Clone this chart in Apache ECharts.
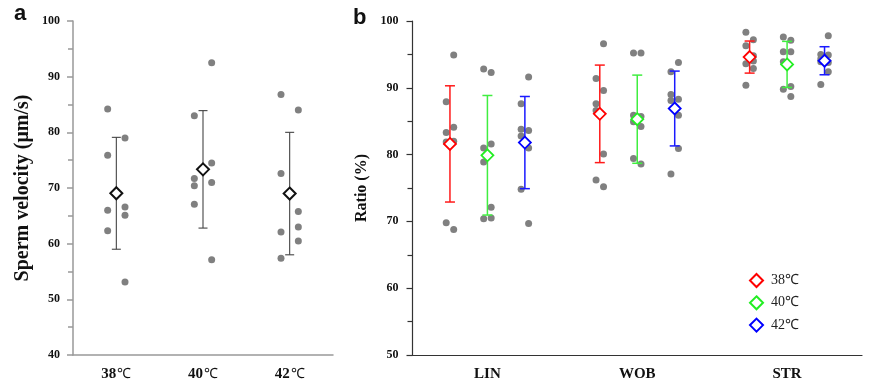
<!DOCTYPE html>
<html>
<head>
<meta charset="utf-8">
<script src="https://cdn.jsdelivr.net/npm/echarts@6/dist/echarts.min.js"></script>
<style>
html,body{margin:0;padding:0;background:#fff;}
#c{width:893px;height:388px;}
</style>
</head>
<body>
<div id="c"></div>
<script>
// ---------- Data ----------
const tempLabels = ['38℃', '40℃', '42℃'];
const paramLabels = ['LIN', 'WOB', 'STR'];
const velocityTicks = [40, 100, 10];
const ratioTicks = [50, 100, 10];

// Panel a: sperm velocity, first four = left column, last four = right column
const velocity38 = [84.2, 75.9, 66.0, 62.3, 79.0, 66.6, 65.1, 53.1];
const velocity40 = [83.0, 71.7, 70.4, 67.1, 92.5, 74.5, 71.0, 57.1];
const velocity42 = [86.8, 72.6, 62.1, 57.4, 84.0, 65.8, 63.0, 60.5];
const velocityMean = [69.05, 73.35, 69.0];
const velocitySD = [10.05, 10.55, 11.0];

// Panel b: ratios (%), first four = left column, last four = right column
const lin38 = [87.9, 83.3, 81.9, 69.8, 94.9, 84.1, 82.0, 68.8];
const lin40 = [92.8, 81.0, 78.9, 70.4, 92.3, 81.6, 72.1, 70.5];
const lin42 = [87.6, 83.8, 82.8, 74.8, 91.6, 83.6, 81.0, 69.7];
const wob38 = [91.4, 87.6, 86.6, 76.2, 96.6, 89.6, 80.1, 75.2];
const wob40 = [95.2, 85.9, 84.9, 79.4, 95.2, 85.7, 84.2, 78.6];
const wob42 = [92.4, 89.0, 88.1, 77.1, 93.8, 88.3, 85.9, 80.9];
const str38 = [98.3, 96.3, 93.6, 90.4, 97.2, 94.8, 94.0, 92.9];
const str40 = [97.6, 95.4, 93.9, 89.8, 97.1, 95.4, 90.2, 88.7];
const str42 = [95.0, 94.3, 93.9, 90.5, 97.8, 94.9, 93.8, 92.4];

const ratioMean38 = [81.6, 86.1, 94.6];
const ratioSD38 = [8.7, 7.3, 2.4];
const ratioMean40 = [79.9, 85.3, 93.5];
const ratioSD40 = [8.95, 6.6, 3.45];
const ratioMean42 = [81.8, 86.9, 94.05];
const ratioSD42 = [6.9, 5.6, 2.1];

// ---------- Build ----------
const serif = 'Liberation Serif';
const dotColor = '#808080';
const tempColors = ['#ff0000', '#22ee22', '#0000ff'];
const barColors = ['#ff1a1a', '#40ee40', '#1a1aff'];

function richTemp(s) {
  // split number part and the degree sign so the ℃ glyph is drawn thin
  const i = s.indexOf('℃');
  return i < 0 ? s : '{n|' + s.slice(0, i) + '}{d|℃}';
}

function dotPoints(vals, center, jitter) {
  return vals.map((v, i) => [center + (i < 4 ? -jitter : jitter), v]);
}

const velocityGroups = [velocity38, velocity40, velocity42];
const ratioGroups = [
  [lin38, wob38, str38],
  [lin40, wob40, str40],
  [lin42, wob42, str42]
];
const ratioMeans = [ratioMean38, ratioMean40, ratioMean42];
const ratioSDs = [ratioSD38, ratioSD40, ratioSD42];
const groupShift = [-0.25, 0, 0.25];

function errRender(color, cap, width) {
  return function (params, api) {
    const x = api.value(0), m = api.value(1), sd = api.value(2);
    const t = api.coord([x, m + sd]);
    const b = api.coord([x, m - sd]);
    const st = { stroke: color, lineWidth: width };
    return {
      type: 'group',
      children: [
        { type: 'line', shape: { x1: t[0], y1: t[1], x2: b[0], y2: b[1] }, style: st },
        { type: 'line', shape: { x1: t[0] - cap, y1: t[1], x2: t[0] + cap, y2: t[1] }, style: st },
        { type: 'line', shape: { x1: b[0] - cap, y1: b[1], x2: b[0] + cap, y2: b[1] }, style: st }
      ]
    };
  };
}

const series = [];

// Panel a
velocityGroups.forEach((vals, gi) => {
  series.push({
    type: 'scatter', name: 'va' + gi, xAxisIndex: 0, yAxisIndex: 0,
    symbol: 'circle', symbolSize: 7, z: 2, silent: true,
    itemStyle: { color: dotColor, opacity: 1 },
    data: dotPoints(vals, gi + 1, 0.1)
  });
});
series.push({
  type: 'custom', name: 'vaErr', xAxisIndex: 0, yAxisIndex: 0, z: 3, silent: true,
  renderItem: errRender('#444', 4.5, 1.1),
  encode: { x: 0, y: 1 },
  data: velocityMean.map((m, i) => [i + 1, m, velocitySD[i]])
});
series.push({
  type: 'scatter', name: 'vaMean', xAxisIndex: 0, yAxisIndex: 0, z: 4, silent: true,
  symbol: 'diamond', symbolSize: 12,
  itemStyle: { color: '#fff', borderColor: '#111', borderWidth: 2, opacity: 1 },
  data: velocityMean.map((m, i) => [i + 1, m])
});

// Panel b
ratioGroups.forEach((cats, ti) => {
  const pts = [];
  cats.forEach((vals, ci) => {
    dotPoints(vals, ci + 1 + groupShift[ti], 0.025).forEach(p => pts.push(p));
  });
  series.push({
    type: 'scatter', name: 'dots' + ti, xAxisIndex: 1, yAxisIndex: 1,
    symbol: 'circle', symbolSize: 7, z: 2, silent: true,
    itemStyle: { color: dotColor, opacity: 1 },
    data: pts
  });
});
ratioMeans.forEach((means, ti) => {
  series.push({
    type: 'custom', name: 'err' + ti, xAxisIndex: 1, yAxisIndex: 1, z: 3, silent: true,
    renderItem: errRender(barColors[ti], 5, 1.5),
    encode: { x: 0, y: 1 },
    data: means.map((m, ci) => [ci + 1 + groupShift[ti], m, ratioSDs[ti][ci]])
  });
});
ratioMeans.forEach((means, ti) => {
  series.push({
    type: 'scatter', name: tempLabels[ti], xAxisIndex: 1, yAxisIndex: 1, z: 4, silent: true,
    symbol: 'diamond', symbolSize: 12,
    itemStyle: { color: '#fff', borderColor: tempColors[ti], borderWidth: 1.8, opacity: 1 },
    data: means.map((m, ci) => [ci + 1 + groupShift[ti], m])
  });
});

function yAxisCfg(gi, ticks, name, gap, color, lw, lblMargin, nameSize) {
  return {
    type: 'value', gridIndex: gi, min: ticks[0], max: ticks[1], interval: ticks[2],
    name: name, nameLocation: 'middle', nameGap: gap,
    nameTextStyle: { fontFamily: serif, fontWeight: 'bold', fontSize: nameSize, color: '#111' },
    axisLine: { show: true, lineStyle: { color: color, width: lw } },
    axisTick: { show: true, length: 6, lineStyle: { color: color, width: lw } },
    minorTick: { show: true, splitNumber: 2, length: 5, lineStyle: { color: color, width: lw } },
    splitLine: { show: false },
    axisLabel: { fontFamily: serif, fontWeight: 'bold', fontSize: 12, color: '#111', margin: lblMargin }
  };
}
function xAxisCfg(gi, labels, color, lw) {
  return {
    type: 'value', gridIndex: gi, min: 0.5, max: 3.5,
    axisLine: { show: true, onZero: false, lineStyle: { color: color, width: lw } },
    axisTick: { show: false },
    splitLine: { show: false },
    axisLabel: {
      customValues: [1, 2, 3],
      formatter: v => richTemp(labels[Math.round(v) - 1]),
      fontFamily: serif, fontWeight: 'bold', fontSize: 15, color: '#111', margin: 12,
      rich: {
        n: { fontFamily: serif, fontWeight: 'bold', fontSize: 15, color: '#111' },
        d: { fontFamily: serif, fontWeight: 'normal', fontSize: 14, color: '#111', padding: [0, 0, 0, 1] }
      }
    }
  };
}

const option = {
  backgroundColor: '#fff',
  animation: false,
  grid: [
    { left: 73, top: 21, width: 260, height: 334 },
    { left: 412.5, top: 21, width: 449.5, height: 334 }
  ],
  xAxis: [
    xAxisCfg(0, tempLabels, '#999', 1.5),
    xAxisCfg(1, paramLabels, '#333', 1.2)
  ],
  yAxis: [
    yAxisCfg(0, velocityTicks, 'Sperm velocity (μm/s)', 40, '#999', 1.5, 13, 20),
    yAxisCfg(1, ratioTicks, 'Ratio (%)', 36, '#333', 1.2, 14, 16)
  ],
  legend: {
    show: true, orient: 'vertical', left: 744, top: 268,
    itemWidth: 13, itemHeight: 13, itemGap: 7.3,
    textStyle: { fontFamily: serif, fontSize: 14, color: '#222', padding: [0, 0, 0, 3] },
    data: tempLabels.map((n, i) => ({
      name: n, icon: 'diamond',
      itemStyle: { color: '#fff', borderColor: tempColors[i], borderWidth: 2 }
    }))
  },
  graphic: [
    { type: 'text', left: 14, top: 3, style: { text: 'a', font: 'bold 22px "Liberation Sans"', fill: '#111' } },
    { type: 'text', left: 353, top: 7, style: { text: 'b', font: 'bold 22px "Liberation Sans"', fill: '#111' } }
  ],
  series: series
};

const chart = echarts.init(document.getElementById('c'), null, { renderer: 'canvas' });
chart.setOption(option);
</script>
</body>
</html>
